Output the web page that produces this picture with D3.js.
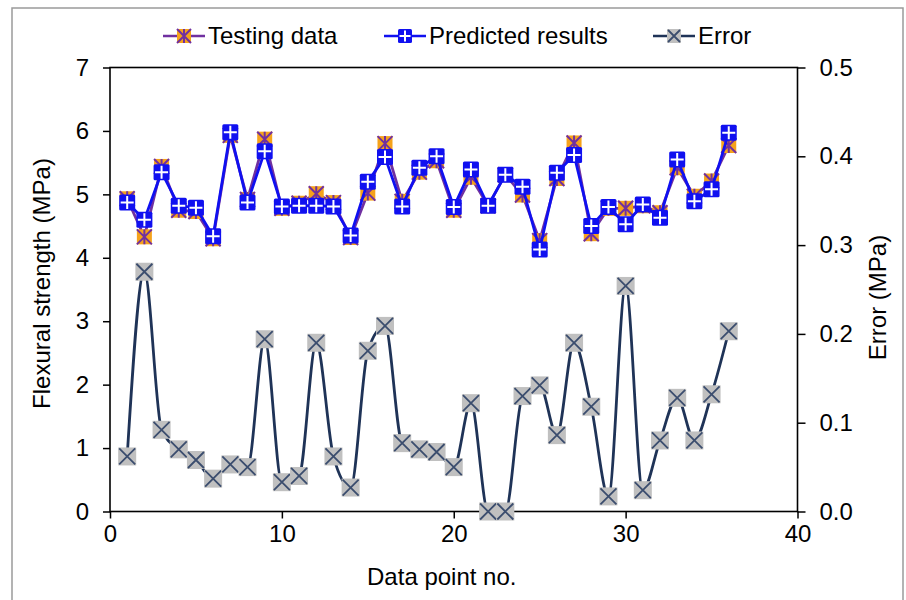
<!DOCTYPE html>
<html><head><meta charset="utf-8">
<script src="https://cdn.jsdelivr.net/npm/d3@7"></script>
<style>
html,body{margin:0;padding:0;background:#fff;}
svg text{font-family:"Liberation Sans",Arial,sans-serif;fill:#000;}
</style></head>
<body>
<svg id="chart" width="906" height="600"></svg>
<script>
const pointNo = d3.range(1, 37);
const testingData = [4.93,4.33,5.44,4.75,4.73,4.30,5.93,4.92,5.87,4.78,4.86,5.01,4.87,4.32,5.02,5.80,4.89,5.35,5.53,4.75,5.27,4.82,5.31,4.99,4.27,5.25,5.81,4.38,4.78,4.78,4.82,4.71,5.42,4.97,5.21,5.77];
const predictedResults = [4.87,4.60,5.35,4.82,4.79,4.34,5.98,4.87,5.68,4.81,4.82,4.82,4.81,4.35,5.20,5.59,4.81,5.42,5.60,4.80,5.39,4.82,5.31,5.12,4.13,5.34,5.62,4.50,4.80,4.53,4.84,4.63,5.55,4.89,5.08,5.97];
const errorValues = [0.062,0.270,0.092,0.070,0.058,0.037,0.053,0.050,0.194,0.033,0.040,0.190,0.062,0.027,0.181,0.209,0.077,0.070,0.067,0.050,0.122,0.000,0.000,0.130,0.142,0.086,0.190,0.118,0.017,0.254,0.024,0.080,0.128,0.080,0.132,0.203];
const xTicks = [0,10,20,30,40];
const yTicks = [0,1,2,3,4,5,6,7];
const y2Ticks = [0,0.1,0.2,0.3,0.4,0.5];
const legendLabels = ["Testing data","Predicted results","Error"];

const svg = d3.select("#chart");
const L = 110, R = 797.5, T = 67.5, B = 511.5;

// outer frame
svg.append("rect").attr("x",12).attr("y",8).attr("width",891).attr("height",620)
  .attr("fill","none").attr("stroke","#9a9a9a").attr("stroke-width",1.5);

const x = d3.scaleLinear().domain([0,40]).range([L,R]);
const y = d3.scaleLinear().domain([0,7]).range([B,T]);
const y2 = d3.scaleLinear().domain([0,0.5]).range([B,T]);

// plot box
svg.append("rect").attr("x",L).attr("y",T).attr("width",R-L).attr("height",B-T)
  .attr("fill","none").attr("stroke","#000").attr("stroke-width",1.6);

function styleAxis(g){
  g.select(".domain").remove();
  g.selectAll(".tick line").attr("stroke","#000").attr("stroke-width",1.5);
  g.selectAll(".tick text").style("font-size","24px").style("font-family","'Liberation Sans',Arial,sans-serif").attr("fill","#000");
}
svg.append("g").attr("transform",`translate(0,${B})`)
  .call(d3.axisBottom(x).tickValues(xTicks).tickSize(7).tickPadding(6).tickFormat(d3.format("d")))
  .call(styleAxis);
svg.append("g").attr("transform",`translate(${L},0)`)
  .call(d3.axisLeft(y).tickValues(yTicks).tickSize(7).tickPadding(14).tickFormat(d3.format("d")))
  .call(styleAxis);
svg.append("g").attr("transform",`translate(${R},0)`)
  .call(d3.axisRight(y2).tickValues(y2Ticks).tickSize(8).tickPadding(14).tickFormat(d3.format(".1f")))
  .call(styleAxis);

// axis titles
svg.append("text").attr("x",(L+R)/2-12).attr("y",585).attr("text-anchor","middle")
  .style("font-size","24px").text("Data point no.");
svg.append("text").attr("transform",`translate(50,${(T+B)/2-6}) rotate(-90)`).attr("text-anchor","middle")
  .style("font-size","24px").text("Flexural strength (MPa)");
svg.append("text").attr("transform",`translate(886,${(T+B)/2+8}) rotate(-90)`).attr("text-anchor","middle")
  .style("font-size","24px").text("Error (MPa)");

const COL_T = "#7030a0", COL_TF = "#f5a21b";
const COL_P = "#1010f0";
const COL_E = "#1f3357", COL_EF = "#c0c0c0";

function markerTesting(g, s){
  const h = s/2;
  g.append("rect").attr("x",-h).attr("y",-h).attr("width",s).attr("height",s).attr("fill",COL_TF);
  g.append("path").attr("d",`M${-h},${-h}L${h},${h}M${-h},${h}L${h},${-h}M0,${-h}L0,${h}`)
    .attr("stroke",COL_T).attr("stroke-width",2).attr("fill","none");
}
function markerPred(g, s){
  const h = s/2;
  g.append("rect").attr("x",-h).attr("y",-h).attr("width",s).attr("height",s).attr("fill",COL_P).attr("rx",1.5);
  g.append("path").attr("d",`M${-h+1.5},0L${h-1.5},0M0,${-h+1.5}L0,${h-1.5}`)
    .attr("stroke","#fff").attr("stroke-width",2).attr("fill","none");
}
function markerErr(g, s){
  const h = s/2;
  g.append("rect").attr("x",-h).attr("y",-h).attr("width",s).attr("height",s).attr("fill",COL_EF);
  g.append("path").attr("d",`M${-h+1},${-h+1}L${h-1},${h-1}M${-h+1},${h-1}L${h-1},${-h+1}`)
    .attr("stroke","#3b4d6e").attr("stroke-width",1.8).attr("fill","none");
}

const lineT = d3.line().x((d,i)=>x(pointNo[i])).y(d=>y(d));
const lineE = d3.line().x((d,i)=>x(pointNo[i])).y(d=>y2(d)).curve(d3.curveMonotoneX);

// Testing series
svg.append("path").datum(testingData).attr("d",lineT).attr("fill","none")
  .attr("stroke",COL_T).attr("stroke-width",2.8);
svg.append("g").selectAll("g").data(testingData).join("g")
  .attr("transform",(d,i)=>`translate(${x(pointNo[i])},${y(d)})`)
  .each(function(){ markerTesting(d3.select(this),15); });

// Predicted series
svg.append("path").datum(predictedResults).attr("d",lineT).attr("fill","none")
  .attr("stroke",COL_P).attr("stroke-width",2.8);
svg.append("g").selectAll("g").data(predictedResults).join("g")
  .attr("transform",(d,i)=>`translate(${x(pointNo[i])},${y(d)})`)
  .each(function(){ markerPred(d3.select(this),16); });

// Error series
svg.append("path").datum(errorValues).attr("d",lineE).attr("fill","none")
  .attr("stroke",COL_E).attr("stroke-width",2.8);
svg.append("g").selectAll("g").data(errorValues).join("g")
  .attr("transform",(d,i)=>`translate(${x(pointNo[i])},${y2(d)})`)
  .each(function(){ markerErr(d3.select(this),18); });

// Legend
const legendX = [163, 384, 653];
const legendCols = [COL_T, COL_P, COL_E];
const legendMarkers = [markerTesting, markerPred, markerErr];
const ly = 36;
legendLabels.forEach((lab,i)=>{
  const g = svg.append("g");
  g.append("line").attr("x1",legendX[i]).attr("x2",legendX[i]+42).attr("y1",ly).attr("y2",ly)
    .attr("stroke",legendCols[i]).attr("stroke-width",2.5);
  const m = g.append("g").attr("transform",`translate(${legendX[i]+21},${ly})`);
  legendMarkers[i](m, 14);
  g.append("text").attr("x",legendX[i]+45).attr("y",ly).attr("dy","0.35em")
    .style("font-size","24px").text(lab);
});
</script>
</body></html>
